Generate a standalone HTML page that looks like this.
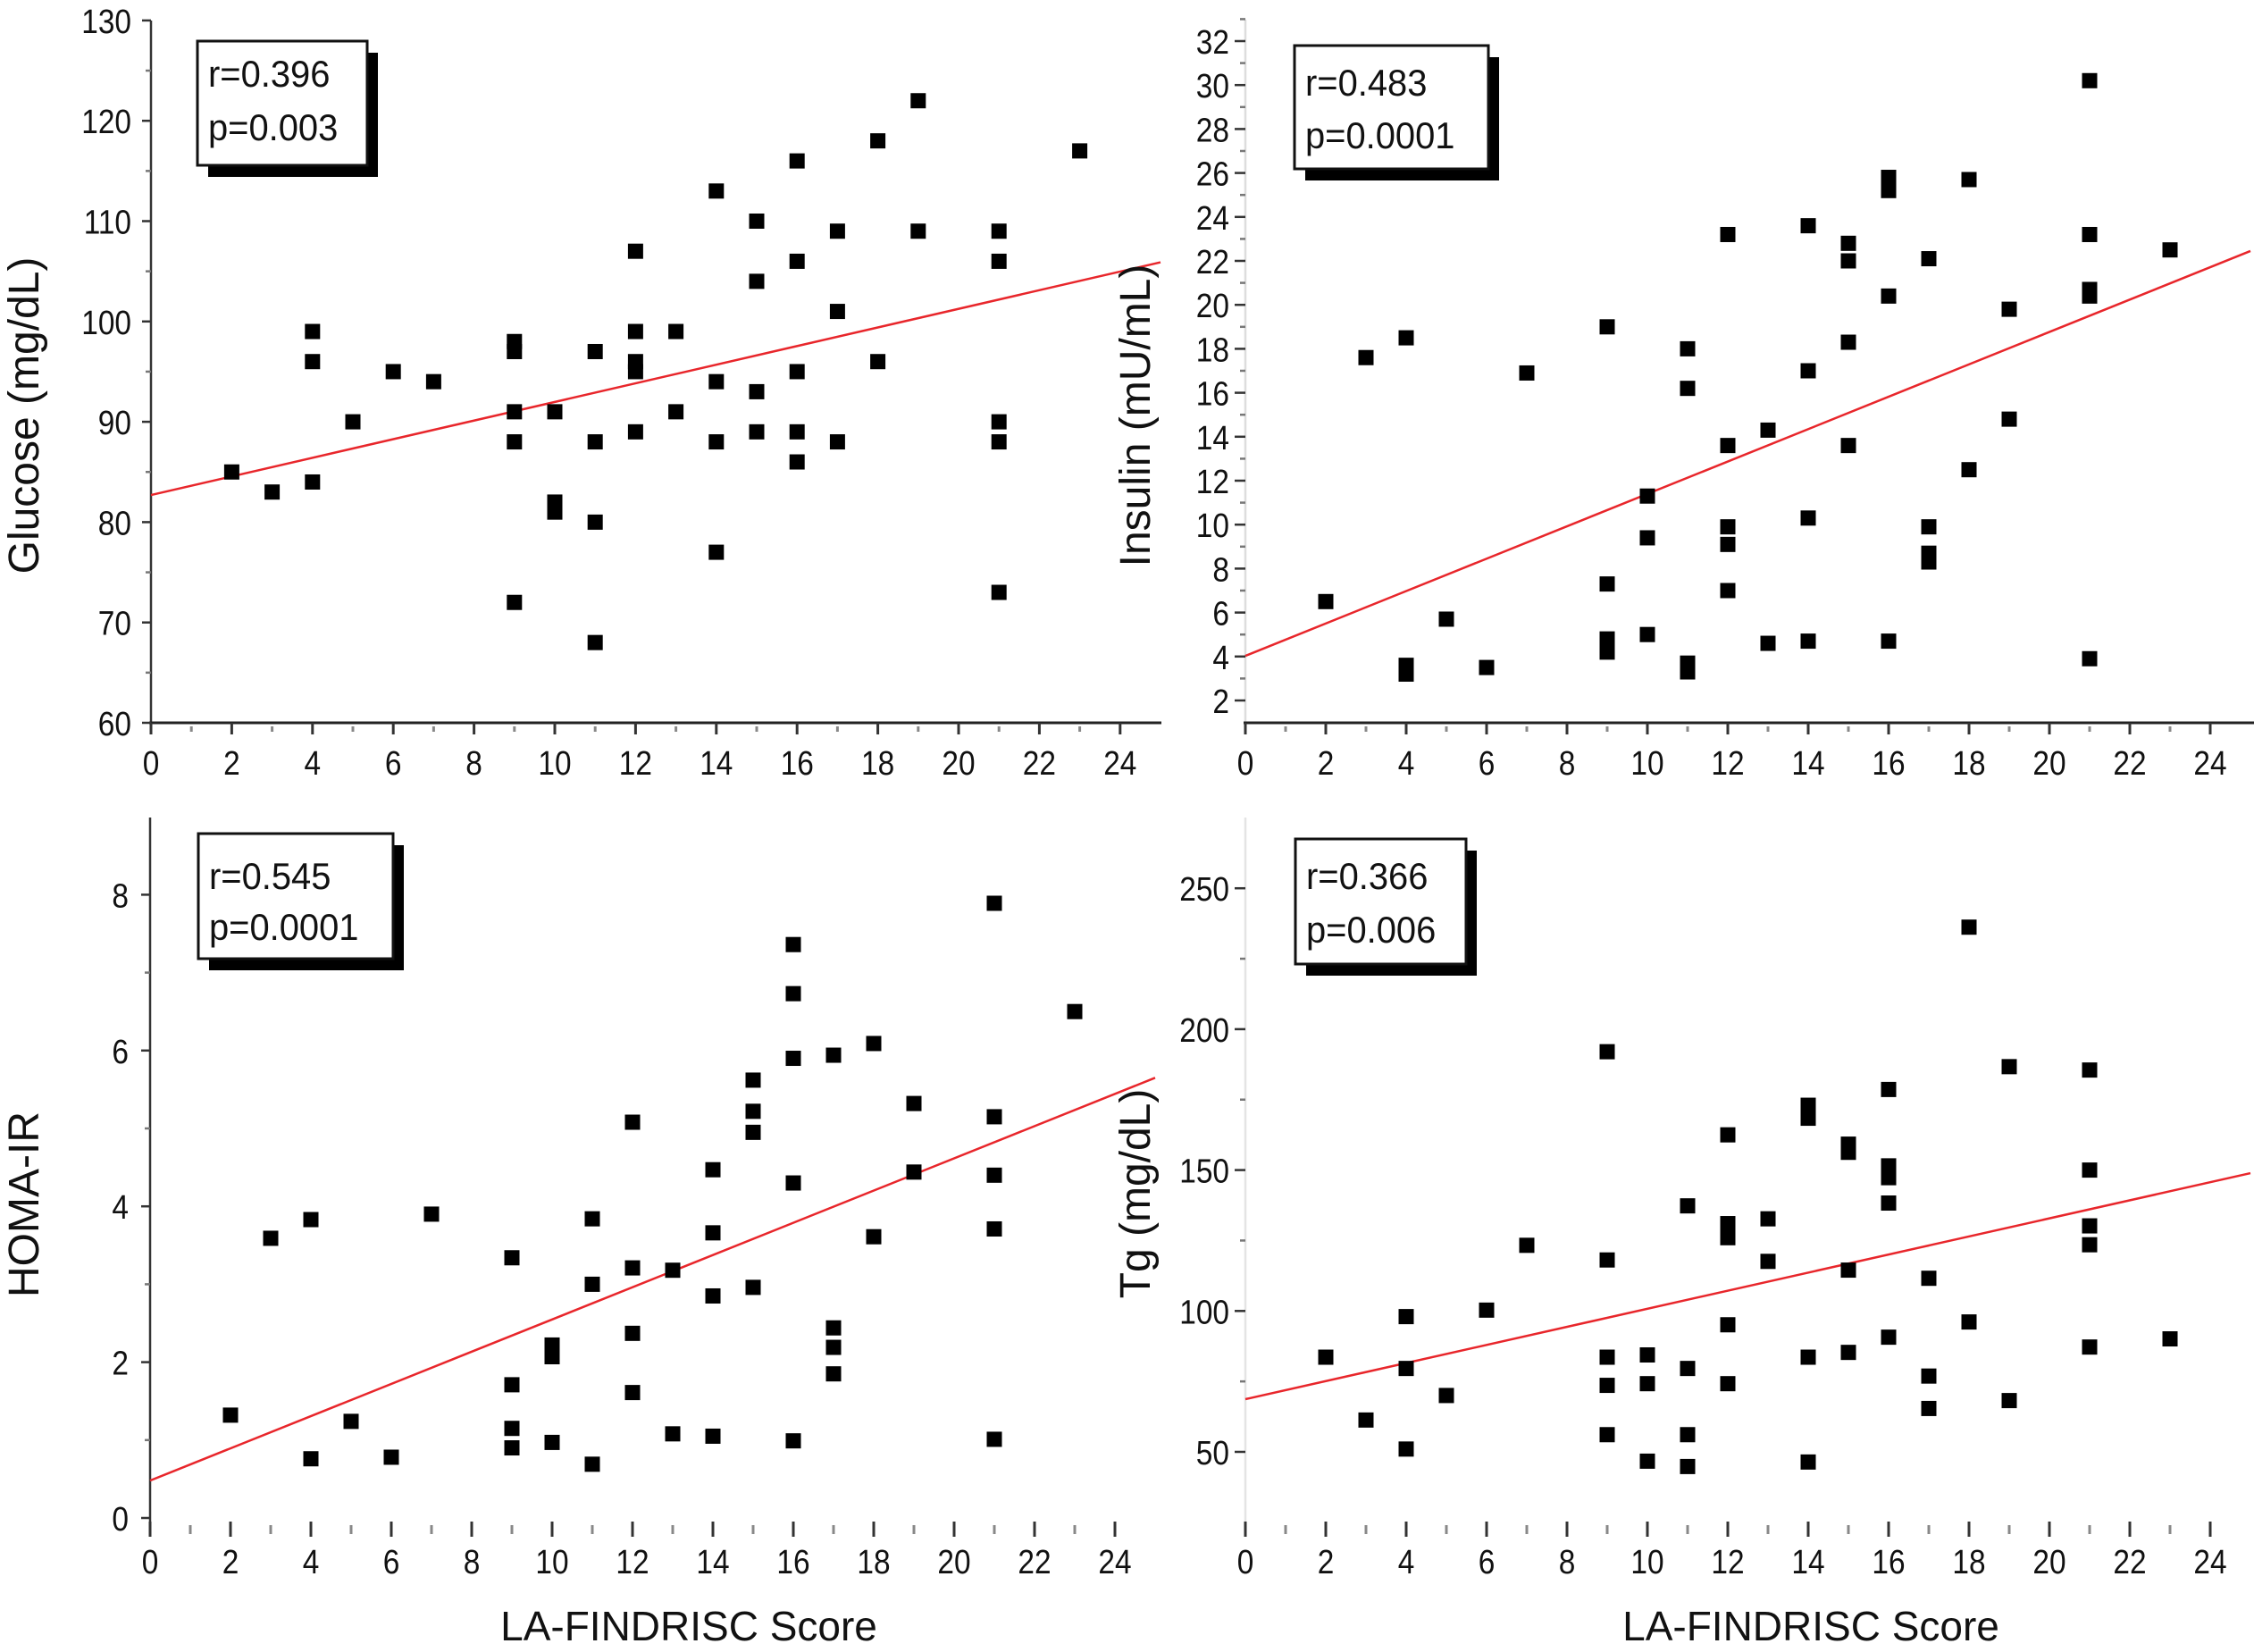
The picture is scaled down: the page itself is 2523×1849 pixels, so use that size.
<!DOCTYPE html>
<html><head><meta charset="utf-8"><style>
html,body{margin:0;padding:0;background:#fff;}
svg{display:block;}
text{font-family:"Liberation Sans",Arial,sans-serif;fill:#111;}
</style></head>
<body>
<svg id="fig" width="2523" height="1849" viewBox="0 0 2523 1849" xmlns="http://www.w3.org/2000/svg"></svg>
<script>
// ---- data ----
const glucoseX=[2,3,4,4,4,5,6,7,9,9,9,9,9,10,10,10,11,11,11,11,12,12,12,12,12,13,13,14,14,14,14,15,15,15,15,16,16,16,16,16,17,17,17,18,18,19,19,21,21,21,21,21,23];
const glucoseY=[85,83,99,96,84,90,95,94,98,97,91,88,72,91,82,81,97,88,80,68,107,99,96,95,89,99,91,113,94,88,77,110,104,93,89,116,106,95,89,86,109,101,88,118,96,122,109,109,106,90,88,73,117];
const insulinX=[2,3,4,4,4,5,6,7,9,9,9,9,10,10,10,11,11,11,11,12,12,12,12,12,13,13,14,14,14,14,15,15,15,15,16,16,16,16,17,17,17,17,18,18,19,19,21,21,21,21,21,23];
const insulinY=[6.5,17.6,18.5,3.2,3.6,5.7,3.5,16.9,19.0,7.3,4.8,4.2,11.3,9.4,5.0,18.0,16.2,3.3,3.7,23.2,13.6,9.9,9.1,7.0,14.3,4.6,23.6,17.0,10.3,4.7,22.8,22.0,18.3,13.6,25.8,25.2,20.4,4.7,22.1,9.9,8.7,8.3,25.7,12.5,19.8,14.8,30.2,23.2,20.7,20.4,3.9,22.5];
const homaX=[2,3,4,4,5,6,7,9,9,9,9,10,10,10,11,11,11,12,12,12,12,13,13,14,14,14,14,15,15,15,15,16,16,16,16,16,17,17,17,17,18,18,19,19,21,21,21,21,21,23];
const homaY=[1.32,3.59,3.83,0.76,1.24,0.78,3.90,3.34,1.71,1.15,0.90,2.22,2.07,0.97,3.84,3.0,0.69,5.08,3.21,2.37,1.61,3.18,1.08,4.47,3.66,2.85,1.05,5.62,5.22,4.95,2.96,7.36,6.73,5.90,4.30,0.99,5.94,2.44,2.19,1.85,6.09,3.61,5.32,4.44,7.89,5.15,4.40,3.71,1.01,6.50];
const tgX=[2,3,4,4,4,5,6,7,9,9,9,9,9,10,10,10,11,11,11,11,12,12,12,12,12,13,13,14,14,14,14,15,15,15,15,16,16,16,16,16,17,17,17,18,18,19,19,21,21,21,21,21,23];
const tgY=[83.6,61.3,98,79.6,51,70,100.3,123.3,192,118.1,83.6,73.6,56.1,84.4,74.2,46.7,137.3,79.6,56.1,44.8,162.5,131,126,95.1,74.2,132.7,117.6,173,168.4,83.6,46.4,159.2,156.3,114.5,85.3,178.6,151.5,147.3,138.3,90.7,111.6,76.9,65.4,236.2,96.1,186.7,68.2,185.5,150,130.2,123.5,87.2,90.1];
// regression lines: [value at x=0, value at x=25]
const glucoseFit=[82.7,105.9];
const insulinFit=[4.03,22.45];
const homaFit=[0.48,5.65];
const tgFit=[68.7,148.9];
// tick labels
const xTickLabels=[0,2,4,6,8,10,12,14,16,18,20,22,24];
const glucoseTicks=[60,70,80,90,100,110,120,130];
const insulinTicks=[2,4,6,8,10,12,14,16,18,20,22,24,26,28,30,32];
const homaTicks=[0,2,4,6,8];
const tgTicks=[50,100,150,200,250];
const statsGlucose=["r=0.396","p=0.003"];
const statsInsulin=["r=0.483","p=0.0001"];
const statsHoma=["r=0.545","p=0.0001"];
const statsTg=["r=0.366","p=0.006"];

const NS="http://www.w3.org/2000/svg";
const svg=document.getElementById('fig');
function mk(tag,attrs,parent){const e=document.createElementNS(NS,tag);for(const k in attrs)e.setAttribute(k,attrs[k]);(parent||svg).appendChild(e);return e;}

function panel(cfg){
  const g=mk('g',{});
  
  
  const sx=v=>cfg.x0+v*cfg.xs;
  const sy=v=>cfg.yBase-(v-cfg.yMin)*cfg.ys;
  const ya=mk('line',{x1:cfg.x0,y1:cfg.yTop,x2:cfg.x0,y2:cfg.yBot,stroke:cfg.yAxisColor,'stroke-width':2.5},g);
  
  
  if(cfg.xAxisLine){
    const xa=mk('line',{x1:cfg.x0-2,y1:cfg.xAxisY,x2:cfg.xEnd,y2:cfg.xAxisY,stroke:'#222','stroke-width':3},g);
    
    
  }
  for(let i=0;i<=24;i++){
    const major=i%2===0;
    const t=mk('line',{x1:sx(i),y1:cfg.xTickY1+(major?0:4),x2:sx(i),y2:cfg.xTickY2-(major?0:3),stroke:major?'#333':'#888','stroke-width':3},g);
    
    
  }
  xTickLabels.forEach(v=>{
    const t=mk('text',{x:0,y:0,'font-size':38,'text-anchor':'middle',transform:`translate(${sx(v)},${cfg.xLabelY}) scale(0.88,1)`},g);
    t.textContent=v;
    
    
  });
  cfg.minorY.forEach(v=>{
    const t=mk('line',{x1:cfg.x0-cfg.minorLen,y1:sy(v),x2:cfg.x0,y2:sy(v),stroke:'#777','stroke-width':2.5},g);
    
    
  });
  cfg.yTicks.forEach(v=>{
    const t=mk('line',{x1:cfg.x0-cfg.majorLen,y1:sy(v),x2:cfg.x0,y2:sy(v),stroke:'#333','stroke-width':2.5},g);
    
    
    const l=mk('text',{x:0,y:0,'font-size':38,'text-anchor':'end',transform:`translate(${cfg.x0-cfg.yLabelGap},${sy(v)+14}) scale(0.88,1)`},g);
    l.textContent=v;
    
    
  });
  const yt=mk('text',{x:0,y:0,'font-size':48,'text-anchor':'middle',transform:`translate(${cfg.yTitleX},${cfg.yTitleY}) rotate(-90)`},g);
  yt.textContent=cfg.yTitle;
  
  
  if(cfg.xTitle){
    const xt=mk('text',{x:cfg.xTitleX,y:cfg.xTitleY,'font-size':46,'text-anchor':'middle'},g);
    xt.textContent=cfg.xTitle;
    
    
  }
  const rl=mk('line',{x1:sx(0),y1:sy(cfg.fit[0]),x2:sx(25),y2:sy(cfg.fit[1]),stroke:'#e8262b','stroke-width':2.5},g);
  
  
  cfg.xs_.forEach((xv,i)=>{
    const r=mk('rect',{x:sx(xv)-8.5,y:sy(cfg.ys_[i])-8.5,width:17,height:17,fill:'#000'},g);
    
    
  });
  const b=cfg.box;
  const sh=mk('rect',{x:b[0]+12,y:b[1]+13,width:b[2]-b[0],height:b[3]-b[1],fill:'#000'},g);
  
  
  const bx=mk('rect',{x:b[0],y:b[1],width:b[2]-b[0],height:b[3]-b[1],fill:'#fff',stroke:'#111','stroke-width':3},g);
  
  
  cfg.stats.forEach((s,i)=>{
    const t=mk('text',{x:0,y:0,'font-size':42,transform:`translate(${b[0]+12},${b[1]+cfg.statY[i]}) scale(0.95,1)`},g);
    t.textContent=s;
    
    
  });
}

panel({name:'glucose-panel',x0:169,xs:45.2,xEnd:1300,xAxisLine:true,xAxisY:809,yBase:809,yMin:60,ys:11.23,yTop:23,yBot:809,yAxisColor:'#333',
  xTickY1:809,xTickY2:822,xLabelY:867,yTicks:glucoseTicks,minorY:[65,75,85,95,105,115,125],majorLen:10,minorLen:6,yLabelGap:22,
  yTitle:'Glucose (mg/dL)',yTitleX:43,yTitleY:465,fit:glucoseFit,xs_:glucoseX,ys_:glucoseY,
  box:[221,46,411,185],stats:statsGlucose,statY:[51,111]});
panel({name:'insulin-panel',x0:1394,xs:45,xEnd:2523,xAxisLine:true,xAxisY:809,yBase:784,yMin:2,ys:24.6,yTop:22,yBot:809,yAxisColor:'#ddd',
  xTickY1:809,xTickY2:822,xLabelY:867,yTicks:insulinTicks,minorY:[3,5,7,9,11,13,15,17,19,21,23,25,27,29,31,33],majorLen:12,minorLen:6,yLabelGap:18,
  yTitle:'Insulin (mU/mL)',yTitleX:1287,yTitleY:465,fit:insulinFit,xs_:insulinX,ys_:insulinY,
  box:[1449,51,1666,189],stats:statsInsulin,statY:[56,115]});
panel({name:'homa-ir-panel',x0:168,xs:45,xEnd:1300,xAxisLine:false,xAxisY:1712,yBase:1699,yMin:0,ys:87.2,yTop:915,yBot:1720,yAxisColor:'#333',
  xTickY1:1703,xTickY2:1720,xLabelY:1761,yTicks:homaTicks,minorY:[1,3,5,7],majorLen:10,minorLen:6,yLabelGap:24,
  yTitle:'HOMA-IR',yTitleX:43,yTitleY:1348,xTitle:'LA-FINDRISC Score',xTitleX:771,xTitleY:1836,fit:homaFit,xs_:homaX,ys_:homaY,
  box:[222,933,440,1073],stats:statsHoma,statY:[62,119]});
panel({name:'tg-panel',x0:1394,xs:45,xEnd:2523,xAxisLine:false,xAxisY:1712,yBase:1625,yMin:50,ys:3.154,yTop:915,yBot:1720,yAxisColor:'#e4e4e4',
  xTickY1:1703,xTickY2:1720,xLabelY:1761,yTicks:tgTicks,minorY:[75,125,175,225],majorLen:12,minorLen:6,yLabelGap:18,
  yTitle:'Tg (mg/dL)',yTitleX:1287,yTitleY:1336,xTitle:'LA-FINDRISC Score',xTitleX:2027,xTitleY:1836,fit:tgFit,xs_:tgX,ys_:tgY,
  box:[1450,939,1641,1079],stats:statsTg,statY:[56,116]});
</script>
</body></html>
